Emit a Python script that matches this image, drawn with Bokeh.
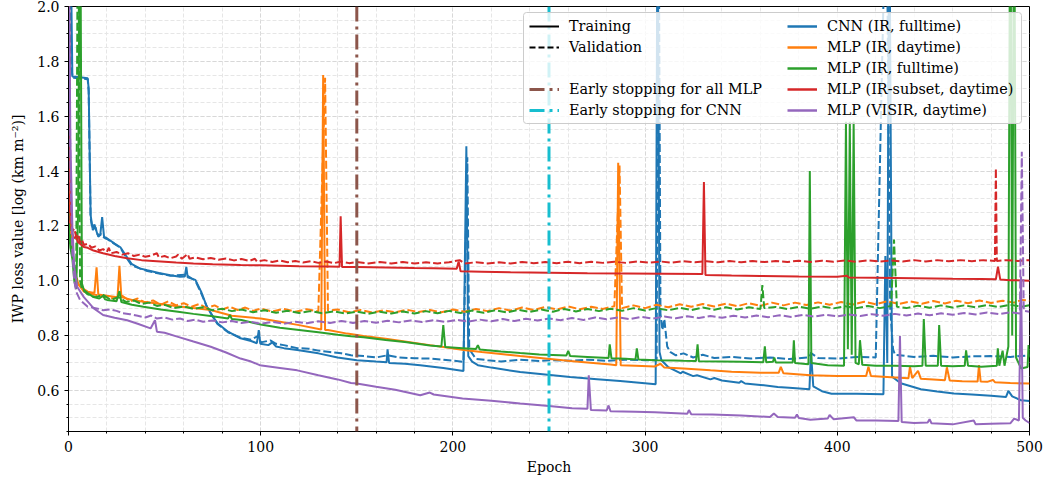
from bokeh.plotting import figure
from bokeh.models import (Range1d, Span, Legend, LegendItem, SingleIntervalTicker, PrintfTickFormatter,
                          BoxAnnotation)
from bokeh.embed import file_html
from bokeh.resources import INLINE

# ---------------- data (epoch, loss) ----------------
early_stop_mlp = 150
early_stop_cnn = 250

cnn_train = [(0, 2.6), (1, 2.3), (2, 1.745), (6, 1.742), (10, 1.738), (10.5, 1.70), (11.5, 1.24), (12.5, 1.19),
             (13.5, 1.205), (15, 1.17), (16.5, 1.165), (17.5, 1.232), (18.5, 1.16), (20, 1.155), (24, 1.135),
             (27, 1.122), (30, 1.09), (33, 1.06), (37, 1.045), (41, 1.038), (47, 1.028), (53, 1.02), (58, 1.014),
             (60.5, 1.015), (61.3, 1.05), (62, 1.012), (66, 1.003), (69, 0.96), (72, 0.905), (75, 0.87),
             (77.5, 0.845), (83, 0.814), (89.5, 0.79), (95, 0.78), (98, 0.772), (99, 0.82), (99.8, 0.77),
             (104, 0.765), (106, 0.775), (108, 0.76), (112, 0.754), (119, 0.747), (130, 0.735), (140, 0.72),
             (150, 0.71), (160, 0.705), (165.5, 0.703), (166, 0.75), (166.8, 0.70), (175, 0.697), (183, 0.692),
             (195, 0.682), (205.5, 0.671), (207, 1.49), (208, 0.725), (210, 0.705), (213, 0.692), (220, 0.683),
             (235, 0.667), (248, 0.658), (261, 0.649), (275, 0.641), (287, 0.634), (297, 0.628), (305.5, 0.622),
             (306.5, 2.5), (307.5, 0.74), (308.5, 0.71), (312, 0.685), (318.6, 0.662), (319.5, 0.668),
             (325, 0.652), (327, 0.655), (334, 0.64), (336, 0.645), (340, 0.636), (349, 0.628), (350, 0.634),
             (352, 0.625), (360, 0.62), (369, 0.612), (375, 0.61), (385.5, 0.604), (386.3, 0.74), (387.5, 0.615),
             (392, 0.597), (397, 0.588), (410, 0.588), (424, 0.586), (425, 1.09), (426, 0.7), (427, 2.5),
             (428.5, 0.65), (433, 0.626), (443.5, 0.604), (452, 0.596), (460.7, 0.589), (470, 0.585),
             (480, 0.58), (487.8, 0.576), (489, 0.598), (491, 0.578), (495.6, 0.564), (500, 0.561)]

cnn_val = [(0, 2.5), (1.2, 1.79), (2.2, 1.74), (10, 1.735), (10.5, 1.69), (11.5, 1.23), (12.5, 1.185),
           (14, 1.195), (15.5, 1.16), (17, 1.17), (18.5, 1.157), (20, 1.152), (27, 1.12), (30, 1.085),
           (33, 1.055), (41, 1.035), (53, 1.018), (61, 1.022), (66, 1.0), (69, 0.955), (72, 0.905),
           (77.5, 0.842), (83, 0.812), (89.5, 0.792), (95, 0.785), (99, 0.80), (100, 0.775), (105, 0.782),
           (108, 0.77), (112, 0.765), (119, 0.754), (125, 0.752), (130, 0.745), (136, 0.74), (142, 0.735),
           (147, 0.728), (153.5, 0.725), (160, 0.72), (166, 0.728), (172, 0.72), (180, 0.717), (188, 0.716),
           (195, 0.712), (205.5, 0.704), (207.5, 1.45), (208.5, 0.75), (212, 0.715), (218, 0.71), (225, 0.705),
           (235, 0.712), (245, 0.707), (252, 0.71), (262, 0.708), (270, 0.712), (280, 0.708), (290, 0.712),
           (300, 0.71), (306, 0.71), (307, 2.5), (308, 0.88), (309, 0.82), (310, 0.86), (311.5, 0.76),
           (313, 0.74), (316, 0.728), (320, 0.735), (325, 0.72), (330, 0.73), (336, 0.718), (345, 0.722),
           (355, 0.716), (365, 0.72), (375, 0.714), (385, 0.72), (386.5, 0.735), (390, 0.718), (400, 0.716),
           (410, 0.722), (420, 0.72), (425.5, 2.5), (427.5, 0.9), (429, 0.75), (430, 0.73), (440, 0.722),
           (450, 0.726), (460, 0.72), (470, 0.724), (480, 0.725), (490, 0.722), (500, 0.728)]

mlp_ir_day_train = [(0, 1.30), (2, 1.10), (4, 1.0), (6, 0.978), (10, 0.96), (13.5, 0.955), (14.6, 1.049),
                    (15.5, 0.95), (20, 0.945), (25.5, 0.94), (26.5, 1.054), (27.5, 0.94), (33, 0.93),
                    (39, 0.923), (48, 0.915), (56.7, 0.907), (65, 0.90), (74, 0.893), (85, 0.872), (100, 0.862),
                    (110, 0.85), (120, 0.838), (131.5, 0.822), (132.5, 1.75), (133.5, 0.82), (135, 0.82),
                    (145, 0.807), (153.5, 0.798), (165, 0.788), (175, 0.778), (188, 0.765), (195, 0.758),
                    (205.6, 0.747), (215, 0.74), (225, 0.733), (235, 0.725), (248, 0.716), (261, 0.707),
                    (270, 0.702), (282, 0.694), (285, 0.692), (286, 1.43), (287.3, 0.692), (295, 0.69),
                    (305, 0.687), (308, 0.697), (310, 0.683), (320, 0.68), (334, 0.673), (345, 0.668),
                    (360, 0.664), (369.5, 0.664), (370.6, 0.686), (372, 0.662), (386, 0.655), (400, 0.652),
                    (415, 0.652), (416.2, 0.686), (417.5, 0.652), (428, 0.648), (437, 0.644), (437.8, 0.686),
                    (439, 0.645), (442, 0.671), (443.5, 0.642), (450, 0.64), (456, 0.637), (457, 0.684),
                    (458.5, 0.636), (465, 0.633), (473, 0.632), (473.7, 0.692), (474.6, 0.632), (478, 0.631),
                    (481, 0.638), (482, 0.63), (490, 0.627), (500, 0.625)]

mlp_ir_day_val = [(0, 1.33), (1, 1.25), (2, 1.12), (3, 1.05), (5, 0.99), (8, 0.96), (10, 0.955), (16, 0.945),
                  (20, 0.94), (24, 0.935), (28, 0.945), (32, 0.925), (36, 0.935), (40, 0.92), (44, 0.928),
                  (48, 0.912), (52, 0.925), (56, 0.91), (60, 0.918), (64, 0.905), (68, 0.915), (72, 0.90),
                  (76, 0.91), (80, 0.895), (84, 0.905), (88, 0.893), (92, 0.902), (96, 0.89), (100, 0.898),
                  (106, 0.888), (112, 0.897), (118, 0.887), (124, 0.896), (130, 0.888), (133.5, 1.74),
                  (135, 0.89), (140, 0.895), (146, 0.885), (152, 0.893), (158, 0.884), (164, 0.892),
                  (170, 0.885), (176, 0.894), (182, 0.886), (188, 0.893), (194, 0.885), (200, 0.895),
                  (206, 0.887), (212, 0.897), (218, 0.889), (224, 0.90), (230, 0.891), (236, 0.902),
                  (242, 0.893), (248, 0.904), (254, 0.895), (260, 0.906), (266, 0.896), (272, 0.905),
                  (278, 0.897), (284, 0.907), (286.7, 1.42), (288, 0.90), (294, 0.91), (300, 0.90),
                  (306, 0.912), (312, 0.903), (318, 0.914), (324, 0.905), (330, 0.915), (336, 0.906),
                  (342, 0.916), (348, 0.907), (354, 0.918), (360, 0.908), (366, 0.92), (372, 0.91),
                  (378, 0.92), (384, 0.911), (390, 0.921), (396, 0.912), (402, 0.922), (408, 0.913),
                  (414, 0.923), (420, 0.914), (426, 0.925), (432, 0.915), (438, 0.924), (444, 0.916),
                  (450, 0.926), (456, 0.917), (462, 0.927), (468, 0.918), (474, 0.928), (480, 0.919),
                  (486, 0.927), (492, 0.92), (496, 0.93), (500, 0.927)]

mlp_ir_full_train = [(0, 1.2), (1, 1.12), (2, 1.08), (3, 1.0), (4, 0.97), (5, 1.25), (6, 2.6), (7, 0.99),
                     (8, 0.966), (10, 0.955), (13, 0.94), (16, 0.935), (18, 0.945), (19, 0.932), (20, 0.93),
                     (25, 0.925), (26.5, 0.962), (27.5, 0.922), (33, 0.912), (39, 0.905), (48, 0.895),
                     (57, 0.887), (65, 0.879), (74, 0.871), (83, 0.862), (84, 0.875), (85, 0.86), (90, 0.857),
                     (100, 0.84), (110, 0.828), (120, 0.82), (130, 0.812), (140, 0.803), (147, 0.797),
                     (153.5, 0.794), (165, 0.784), (175, 0.776), (188, 0.764), (194, 0.76), (195, 0.838),
                     (196, 0.758), (205, 0.754), (212, 0.751), (213, 0.765), (214, 0.749), (225, 0.742),
                     (235, 0.736), (245, 0.731), (259, 0.727), (260, 0.744), (261, 0.725), (270, 0.722),
                     (281, 0.718), (281.6, 0.768), (282.5, 0.717), (290, 0.715), (295, 0.713), (295.7, 0.753),
                     (296.5, 0.713), (305, 0.71), (315, 0.709), (320, 0.708), (326.5, 0.707), (327.3, 0.768),
                     (328, 0.706), (340, 0.705), (350, 0.704), (361.5, 0.703), (362.3, 0.761), (363, 0.703),
                     (366.5, 0.704), (367.2, 0.72), (368, 0.702), (376.8, 0.702), (377.4, 0.783), (378, 0.70),
                     (385, 0.695), (385.7, 1.40), (386.5, 0.70), (395, 0.692), (403.5, 0.69), (404.5, 1.58),
                     (405.5, 0.75), (406.5, 1.58), (407.5, 0.73), (408.5, 1.58), (409.5, 0.70), (411.2, 0.695),
                     (411.8, 0.783), (413, 0.693), (420, 0.69), (430, 0.69), (440, 0.688), (444.3, 0.69),
                     (445, 0.86), (446, 0.69), (452.3, 0.69), (453, 0.838), (454, 0.69), (460, 0.688),
                     (466.3, 0.69), (467, 0.746), (468, 0.69), (475, 0.686), (483, 0.69), (483.5, 0.753),
                     (484.3, 0.69), (486, 0.745), (487, 0.69), (489, 0.76), (490, 2.6), (491, 0.80), (492, 2.6),
                     (493, 0.72), (495.6, 0.68), (499, 0.685), (499.5, 0.765), (500, 0.72)]

mlp_ir_full_val = [(0, 1.25), (1, 1.15), (2, 1.10), (3, 1.05), (4, 1.0), (5, 2.6), (6, 1.0), (7, 0.97),
                   (10, 0.95), (14, 0.94), (18, 0.948), (22, 0.93), (26, 0.94), (30, 0.922), (34, 0.928),
                   (38, 0.915), (42, 0.92), (46, 0.908), (50, 0.912), (55, 0.90), (60, 0.906), (65, 0.897),
                   (70, 0.903), (75, 0.892), (80, 0.898), (85, 0.889), (90, 0.895), (96, 0.885), (102, 0.892),
                   (108, 0.883), (114, 0.89), (120, 0.882), (126, 0.889), (132, 0.881), (138, 0.888),
                   (144, 0.88), (150, 0.887), (156, 0.879), (162, 0.887), (168, 0.88), (174, 0.888),
                   (180, 0.88), (186, 0.889), (192, 0.881), (198, 0.89), (204, 0.882), (210, 0.891),
                   (216, 0.883), (222, 0.892), (228, 0.884), (234, 0.894), (240, 0.886), (246, 0.895),
                   (252, 0.887), (258, 0.897), (264, 0.888), (270, 0.897), (276, 0.889), (282, 0.898),
                   (288, 0.89), (294, 0.90), (300, 0.891), (306, 0.90), (312, 0.892), (318, 0.901),
                   (324, 0.893), (330, 0.902), (336, 0.894), (342, 0.903), (348, 0.895), (354, 0.903),
                   (360, 0.897), (361, 0.984), (362, 0.90), (368, 0.904), (374, 0.897), (380, 0.905),
                   (386, 0.898), (392, 0.906), (398, 0.899), (404, 0.907), (410, 0.90), (416, 0.908),
                   (422, 0.90), (428, 0.908), (429.5, 1.15), (431, 0.905), (436, 0.90), (442, 0.909),
                   (448, 0.901), (454, 0.91), (460, 0.902), (466, 0.91), (472, 0.903), (478, 0.911),
                   (484, 0.904), (490, 0.912), (496, 0.905), (500, 0.911)]

mlp_irsub_day_train = [(0, 2.4), (1, 1.25), (2, 1.17), (3, 1.155), (4, 1.16), (5, 1.14), (6, 1.135), (8, 1.123),
                       (10, 1.12), (13, 1.11), (18, 1.10), (24, 1.09), (30.5, 1.082), (38, 1.075), (48, 1.07),
                       (56, 1.066), (65, 1.063), (75, 1.06), (89.5, 1.057), (100, 1.056), (120, 1.053),
                       (135, 1.052), (141, 1.051), (141.6, 1.235), (142.3, 1.05), (150, 1.05), (165, 1.048),
                       (180, 1.046), (190, 1.045), (202, 1.044), (203, 1.07), (204, 1.034), (215, 1.033),
                       (230, 1.031), (250, 1.029), (270, 1.027), (290, 1.026), (310, 1.025), (329.8, 1.024),
                       (330.6, 1.36), (331.4, 1.021), (345, 1.019), (360, 1.017), (380, 1.015), (400, 1.014),
                       (405, 1.018), (406, 1.012), (420, 1.011), (440, 1.009), (460, 1.007), (475, 1.006),
                       (482.5, 1.005), (483.6, 1.051), (484.8, 1.004), (490, 1.002), (500, 1.0)]

mlp_irsub_day_val = [(0, 2.2), (1, 1.2), (2, 1.18), (3, 1.19), (4, 1.16), (5, 1.17), (6, 1.14), (7, 1.15),
                     (8, 1.13), (10, 1.135), (12, 1.12), (14, 1.125), (16, 1.11), (18, 1.115), (20, 1.105),
                     (21, 1.12), (22, 1.10), (25, 1.105), (28, 1.095), (31, 1.10), (34, 1.09), (37, 1.095),
                     (40, 1.087), (43, 1.092), (46, 1.10), (47, 1.085), (50, 1.09), (53, 1.082), (56, 1.088),
                     (57, 1.095), (59, 1.08), (62, 1.097), (63, 1.08), (66, 1.085), (70, 1.078), (74, 1.083),
                     (78, 1.076), (82, 1.081), (86, 1.074), (90, 1.079), (94, 1.072), (97, 1.08), (98, 1.07),
                     (102, 1.075), (106, 1.068), (110, 1.074), (114, 1.067), (118, 1.072), (122, 1.066),
                     (126, 1.071), (130, 1.065), (134, 1.07), (138, 1.064), (142, 1.07), (146, 1.064),
                     (150, 1.068), (156, 1.063), (162, 1.068), (168, 1.063), (174, 1.068), (180, 1.063),
                     (186, 1.067), (192, 1.063), (198, 1.067), (203.5, 1.075), (206, 1.063), (212, 1.067),
                     (218, 1.063), (224, 1.067), (230, 1.063), (236, 1.068), (242, 1.064), (248, 1.068),
                     (254, 1.064), (260, 1.069), (266, 1.064), (272, 1.069), (278, 1.065), (284, 1.069),
                     (290, 1.065), (296, 1.07), (302, 1.066), (308, 1.07), (314, 1.066), (320, 1.071),
                     (326, 1.067), (332, 1.071), (338, 1.067), (344, 1.072), (350, 1.067), (356, 1.072),
                     (362, 1.068), (368, 1.072), (374, 1.068), (380, 1.073), (386, 1.068), (392, 1.073),
                     (398, 1.069), (404, 1.074), (410, 1.069), (416, 1.074), (422, 1.07), (428, 1.074),
                     (434, 1.07), (440, 1.075), (446, 1.07), (452, 1.075), (458, 1.071), (464, 1.075),
                     (470, 1.071), (476, 1.075), (482, 1.072), (482.5, 1.41), (483, 1.072), (488, 1.075),
                     (494, 1.072), (500, 1.075)]

mlp_visir_day_train = [(0, 2.3), (1, 1.5), (2, 1.2), (3, 1.05), (4.5, 0.978), (8, 0.94), (13, 0.90), (18, 0.875),
                       (24, 0.865), (30.5, 0.856), (36, 0.843), (42.7, 0.826), (45, 0.856), (46, 0.814),
                       (50, 0.81), (57, 0.795), (65, 0.778), (74, 0.759), (82, 0.738), (89.5, 0.716),
                       (95, 0.705), (99.5, 0.692), (110, 0.682), (119, 0.673), (130, 0.655), (140, 0.64),
                       (147, 0.627), (150, 0.625), (160, 0.613), (170, 0.602), (183, 0.582), (188, 0.592),
                       (190, 0.585), (205, 0.57), (220, 0.562), (235, 0.552), (250, 0.543), (262, 0.535),
                       (270, 0.533), (270.7, 0.655), (271.8, 0.528), (280, 0.527), (281, 0.545), (282, 0.524),
                       (295, 0.522), (305, 0.52), (322, 0.515), (322.8, 0.528), (324, 0.513), (335, 0.512),
                       (350, 0.508), (365, 0.503), (367, 0.516), (369, 0.503), (378, 0.50), (379, 0.512),
                       (380, 0.499), (386, 0.493), (395, 0.497), (396, 0.51), (398, 0.495), (408.6, 0.502),
                       (410, 0.49), (420, 0.49), (431.8, 0.488), (432.6, 0.798), (433.5, 0.485), (440, 0.481),
                       (447, 0.483), (448, 0.495), (449, 0.48), (460, 0.476), (471, 0.49), (472, 0.476),
                       (480, 0.478), (490, 0.48), (492, 0.497), (494.5, 0.49), (495.6, 1.015), (496.5, 0.50),
                       (498, 0.49), (500, 0.481)]

mlp_visir_day_val = [(0, 2.2), (1, 1.4), (2, 1.10), (3, 1.0), (4, 0.96), (6, 0.93), (10, 0.905), (14, 0.90),
                     (18, 0.892), (22, 0.895), (25, 0.89), (28, 0.882), (32, 0.878), (36, 0.872), (40, 0.866),
                     (43, 0.873), (46, 0.862), (50, 0.866), (54, 0.858), (58, 0.862), (62, 0.853), (66, 0.858),
                     (70, 0.85), (75, 0.855), (80, 0.848), (85, 0.853), (90, 0.846), (95, 0.85), (100, 0.843),
                     (106, 0.85), (112, 0.843), (118, 0.85), (124, 0.845), (130, 0.852), (136, 0.846),
                     (142, 0.853), (148, 0.846), (154, 0.853), (160, 0.847), (166, 0.854), (172, 0.848),
                     (178, 0.855), (184, 0.849), (190, 0.856), (196, 0.85), (202, 0.857), (208, 0.851),
                     (214, 0.858), (220, 0.852), (226, 0.86), (232, 0.853), (238, 0.861), (244, 0.855),
                     (250, 0.862), (256, 0.856), (262, 0.864), (268, 0.857), (274, 0.866), (280, 0.859),
                     (286, 0.866), (292, 0.86), (298, 0.868), (304, 0.862), (310, 0.869), (316, 0.863),
                     (322, 0.87), (328, 0.864), (334, 0.871), (340, 0.865), (346, 0.872), (352, 0.866),
                     (358, 0.873), (364, 0.867), (370, 0.874), (376, 0.868), (382, 0.875), (388, 0.869),
                     (394, 0.876), (400, 0.87), (406, 0.877), (412, 0.871), (418, 0.878), (424, 0.872),
                     (430, 0.879), (436, 0.873), (442, 0.88), (448, 0.874), (454, 0.881), (460, 0.876),
                     (466, 0.882), (472, 0.877), (478, 0.884), (484, 0.878), (490, 0.885), (495, 0.88),
                     (496, 1.47), (497, 0.89), (500, 0.887)]

model_names = ["CNN (IR, fulltime)", "MLP (IR, daytime)", "MLP (IR, fulltime)",
               "MLP (IR-subset, daytime)", "MLP (VISIR, daytime)"]
model_colors = ["#1f77b4", "#ff7f0e", "#2ca02c", "#d62728", "#9467bd"]
train_series = [cnn_train, mlp_ir_day_train, mlp_ir_full_train, mlp_irsub_day_train, mlp_visir_day_train]
val_series = [cnn_val, mlp_ir_day_val, mlp_ir_full_val, mlp_irsub_day_val, mlp_visir_day_val]

FONT = "DejaVu Serif"
NAN = float("nan")

p = figure(width=1047, height=481, x_range=Range1d(0, 500), y_range=Range1d(0.45, 2.0),
           output_backend="svg", toolbar_location=None,
           min_border_left=68, min_border_right=18, min_border_top=6, min_border_bottom=50,
           background_fill_color="white", border_fill_color="white")

p.outline_line_color = "black"
p.outline_line_width = 1

p.xaxis.ticker = SingleIntervalTicker(interval=100, num_minor_ticks=5)
p.yaxis.ticker = SingleIntervalTicker(interval=0.2, num_minor_ticks=4)
p.yaxis.formatter = PrintfTickFormatter(format="%.1f")
for ax in (p.xaxis, p.yaxis):
    ax.major_label_text_font = FONT
    ax.major_label_text_font_size = "14px"
    ax.major_label_text_color = "black"
    ax.axis_label_text_font = FONT
    ax.axis_label_text_font_size = "14px"
    ax.axis_label_text_font_style = "normal"
    ax.axis_label_text_color = "black"
    ax.axis_line_color = "black"
    ax.major_tick_line_color = "black"
    ax.minor_tick_line_color = "black"
    ax.major_tick_in = 0
    ax.major_tick_out = 4
    ax.minor_tick_in = 0
    ax.minor_tick_out = 2
p.xaxis.axis_label = "Epoch"
p.yaxis.axis_label = "IWP loss value [log (km m\u207b\u00b2)]"
p.xaxis.axis_label_standoff = 4
p.yaxis.axis_label_standoff = 8

for g in (p.xgrid, p.ygrid):
    g.grid_line_color = "#d8d8d8"
    g.grid_line_dash = "4 2"
    g.minor_grid_line_color = "#e6e6e6"
    g.minor_grid_line_dash = "4 2"

LW = 2.0
for name, col, tr, va in zip(model_names, model_colors, train_series, val_series):
    p.line([e for e, v in tr], [v for e, v in tr], line_color=col, line_width=LW)
    p.line([e for e, v in va], [v for e, v in va], line_color=col, line_width=LW, line_dash="8 3")

p.add_layout(Span(location=early_stop_mlp, dimension="height", line_color="#8c564b",
                  line_width=3, line_dash="15 5 3 5"))
p.add_layout(Span(location=early_stop_cnn, dimension="height", line_color="#17becf",
                  line_width=3, line_dash="15 5 3 5"))

# legend frame (screen units, relative to the plot frame, y upward from its bottom)
p.add_layout(BoxAnnotation(left=455, right=953, bottom=308, top=419,
                           left_units="screen", right_units="screen",
                           bottom_units="screen", top_units="screen",
                           fill_color="white", fill_alpha=0.8,
                           line_color="#cccccc", line_width=1, line_alpha=1.0, border_radius=3,
                           editable=False))

# legend proxies (NaN data: nothing drawn inside the plot)
r_tr = p.line([NAN], [NAN], line_color="black", line_width=2)
r_va = p.line([NAN], [NAN], line_color="black", line_width=2, line_dash="6 3")
r_blank = p.line([NAN], [NAN], line_alpha=0)
r_es1 = p.line([NAN], [NAN], line_color="#8c564b", line_width=3, line_dash="15 5 3 5")
r_es2 = p.line([NAN], [NAN], line_color="#17becf", line_width=3, line_dash="15 5 3 5")
model_proxies = [p.line([NAN], [NAN], line_color=c, line_width=2.5) for c in model_colors]

items_left = [LegendItem(label="Training", renderers=[r_tr]),
              LegendItem(label="Validation", renderers=[r_va]),
              LegendItem(label=" ", renderers=[r_blank]),
              LegendItem(label="Early stopping for all MLP", renderers=[r_es1]),
              LegendItem(label="Early stopping for CNN", renderers=[r_es2])]
items_right = [LegendItem(label=n, renderers=[r]) for n, r in zip(model_names, model_proxies)]

common = dict(orientation="vertical", label_text_font=FONT, label_text_font_size="14.4px",
              label_text_color="black", glyph_width=30, glyph_height=16, label_height=16,
              label_standoff=10, spacing=5, padding=6, margin=0,
              background_fill_alpha=0, border_line_alpha=0)
p.add_layout(Legend(items=items_left, location=(455, 307), **common))
p.add_layout(Legend(items=items_right, location=(713, 307), **common))

open("out.html", "w").write(file_html(p, INLINE))
